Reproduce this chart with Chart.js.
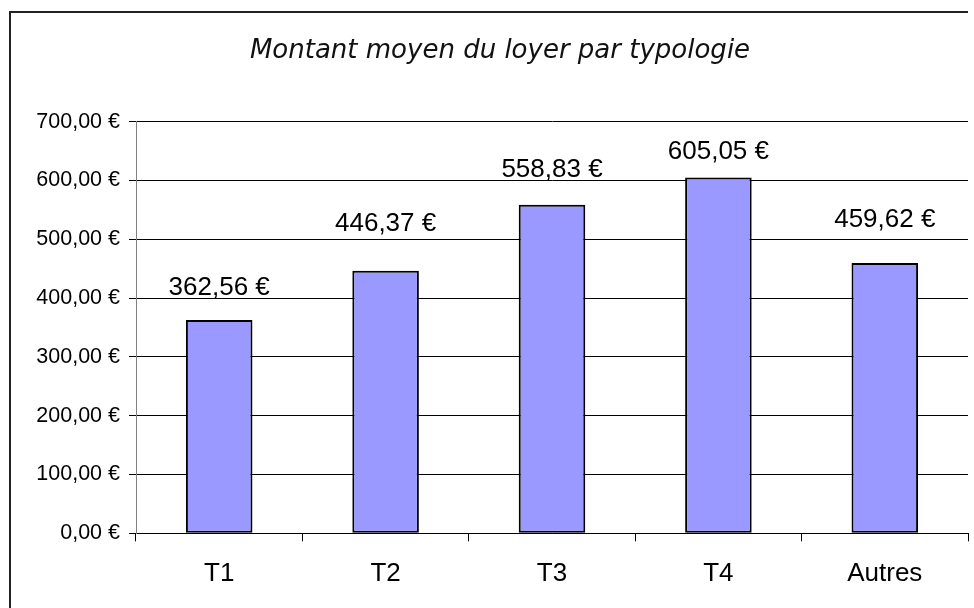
<!DOCTYPE html>
<html>
<head>
<meta charset="utf-8">
<script src="https://cdn.jsdelivr.net/npm/chart.js@4"></script>
<style>
  html, body { margin: 0; padding: 0; background: #fff; overflow: hidden; }
  #vline { position: absolute; left: 9px; top: 11px; width: 2px; height: 600px; background: #222; }
  #hline { position: absolute; left: 9px; top: 11px; width: 959px; height: 2px; background: #222; }
  #wrap { position: absolute; left: 11px; top: 13px; width: 978px; height: 595px; }
</style>
</head>
<body>
<div id="wrap"><canvas id="c" width="978" height="595"></canvas></div>
<div id="vline"></div>
<div id="hline"></div>
<script>
const categories = ['T1', 'T2', 'T3', 'T4', 'Autres'];
const loyerMoyen = [362.56, 446.37, 558.83, 605.05, 459.62];
const yTicks = [0, 100, 200, 300, 400, 500, 600, 700];
const chartTitle = 'Montant moyen du loyer par typologie';

const fmtEuro = v => v.toFixed(2).replace('.', ',') + ' €';

const labelGaps = [25, 40, 28, 19, 36];

const valueLabels = {
  id: 'valueLabels',
  afterDatasetsDraw(chart) {
    const ctx = chart.ctx;
    const meta = chart.getDatasetMeta(0);
    ctx.save();
    ctx.font = '26px "Liberation Sans", Arial, sans-serif';
    ctx.fillStyle = '#000';
    ctx.textAlign = 'center';
    ctx.textBaseline = 'alphabetic';
    meta.data.forEach((bar, i) => {
      ctx.fillText(fmtEuro(loyerMoyen[i]), bar.x, bar.y - labelGaps[i]);
    });
    ctx.restore();
  }
};

new Chart(document.getElementById('c'), {
  type: 'bar',
  data: {
    labels: categories,
    datasets: [{
      data: loyerMoyen,
      backgroundColor: '#9999FF',
      borderColor: '#000000',
      borderWidth: 2,
      borderSkipped: false,
      barPercentage: 0.4,
      categoryPercentage: 1.0
    }]
  },
  options: {
    responsive: false,
    animation: false,
    devicePixelRatio: 1,
    layout: { padding: { left: 21, right: 21, top: 0, bottom: 0 } },
    plugins: {
      legend: { display: false },
      tooltip: { enabled: false },
      title: {
        display: true,
        text: chartTitle,
        color: '#111',
        font: { family: '"DejaVu Sans", sans-serif', size: 26, style: 'italic', weight: 'normal', lineHeight: 1.2 },
        padding: { top: 23, bottom: 54.5 }
      }
    },
    scales: {
      x: {
        grid: { display: true, drawOnChartArea: false, drawTicks: true, tickLength: 8, color: '#000', offset: true },
        border: { display: true, color: '#000', width: 1 },
        ticks: { color: '#000', padding: 16.5, font: { family: '"Liberation Sans", Arial, sans-serif', size: 26 } },
        afterFit(scale) { scale.height = 74.7; }
      },
      y: {
        min: 0, max: 700,
        afterBuildTicks(scale) { scale.ticks = yTicks.map(v => ({ value: v })); },
        grid: { color: '#000', lineWidth: 1, tickLength: 7, drawTicks: true },
        border: { display: true, color: '#808080', width: 1 },
        ticks: { color: '#000', padding: 9, font: { family: '"Liberation Sans", Arial, sans-serif', size: 21.5 },
                 callback: v => fmtEuro(v) },
        afterFit(scale) { scale.width = 104; }
      }
    }
  },
  plugins: [valueLabels]
});
</script>
</body>
</html>
